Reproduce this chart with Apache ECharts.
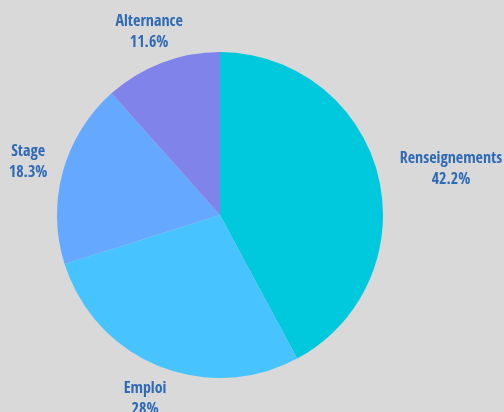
<!DOCTYPE html>
<html><head><meta charset="utf-8">
<script src="https://cdn.jsdelivr.net/npm/echarts@6/dist/echarts.min.js"></script>
<style>html,body{margin:0;padding:0;background:#d9d9d9}#c{width:504px;height:412px}</style>
</head><body><div id="c"></div>
<script>
var categories = ['Renseignements', 'Emploi', 'Stage', 'Alternance'];
var values = [42.2, 28, 18.3, 11.6];
var labels = ['42.2%', '28%', '18.3%', '11.6%'];
var colors = ['#00c9de', '#47c4ff', '#64a8ff', '#8083ea'];

var chart = echarts.init(document.getElementById('c'));
var pieData = categories.map(function (c, i) { return { name: c, value: values[i], itemStyle: { color: colors[i] } }; });
var labelData = categories.map(function (c, i) { return { name: c, value: values[i] }; });
chart.setOption({
  backgroundColor: '#d9d9d9',
  animation: false,
  series: [{
    type: 'pie', center: [220, 215], radius: 163, startAngle: 90, clockwise: true,
    label: { show: false }, labelLine: { show: false }, silent: true,
    data: pieData
  }, {
    type: 'pie', center: [220, 215], radius: [168, 224], startAngle: 90, clockwise: true,
    itemStyle: { color: 'rgba(0,0,0,0)' }, silent: true,
    label: {
      show: true, position: 'inside', color: '#2f6ab5',
      fontFamily: '"Open Sans Condensed","Roboto Condensed",sans-serif', fontWeight: 'bold', fontSize: 16, lineHeight: 21,
      formatter: function (p) { return p.name + '\n' + labels[p.dataIndex]; }
    },
    labelLine: { show: false },
    labelLayout: function (p) {
      if (p.dataIndex === 0) return { dx: 38, dy: 3 };
      if (p.dataIndex === 3) return { dy: 3 };
      return {};
    },
    data: labelData
  }]
});
</script></body></html>
